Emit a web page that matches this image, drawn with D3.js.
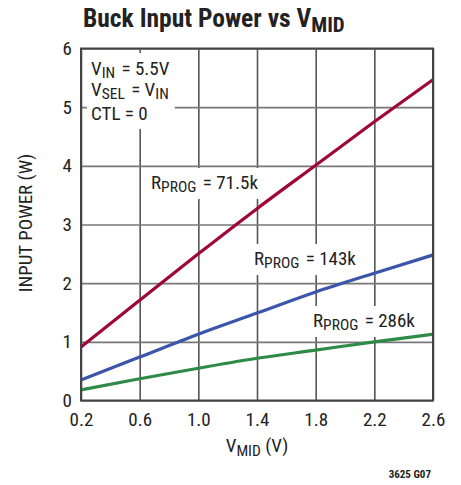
<!DOCTYPE html>
<html><head><meta charset="utf-8">
<script src="https://cdn.jsdelivr.net/npm/d3@7"></script>
<style>
body{margin:0;background:#fff;}
text{font-family:"Liberation Sans Narrow","Roboto Condensed","DejaVu Sans Condensed","Liberation Sans",sans-serif;fill:#222;}
</style></head><body>
<svg id="c" width="461" height="485"></svg>
<script>
const vmid = [0.2, 0.6, 1.0, 1.4, 1.8, 2.2, 2.6];
const pin715 = [0.91, 1.71, 2.50, 3.27, 4.01, 4.75, 5.47];
const pin143 = [0.35, 0.74, 1.13, 1.49, 1.85, 2.17, 2.48];
const pin286 = [0.18, 0.37, 0.55, 0.72, 0.86, 1.00, 1.13];
const xTicks = [0.2, 0.6, 1.0, 1.4, 1.8, 2.2, 2.6];
const yTicks = [0, 1, 2, 3, 4, 5, 6];
const seriesNames = ["71.5k", "143k", "286k"];

const svg = d3.select("#c");
const L = 81, R = 433, T = 48.5, B = 400.5;
const x = d3.scaleLinear().domain([0.2, 2.6]).range([L, R]);
const y = d3.scaleLinear().domain([0, 6]).range([B, T]);

// grid
const gx = svg.append("g").attr("transform", `translate(0,${B})`)
  .call(d3.axisBottom(x).tickValues(xTicks).tickSize(-(B - T)).tickFormat(""));
gx.select(".domain").remove();
gx.selectAll("line").attr("stroke", "#555").attr("stroke-width", 1.6);
const gy = svg.append("g").attr("transform", `translate(${L},0)`)
  .call(d3.axisLeft(y).tickValues(yTicks).tickSize(-(R - L)).tickFormat(""));
gy.select(".domain").remove();
gy.selectAll("line").attr("stroke", "#777").attr("stroke-width", 1.6);

const bgLayer = svg.append("g");
const txtLayer = svg.append("g");
const FS = 19, SUB = 15.5;
function label(xp, yp, parts, size) {
  const t = txtLayer.append("text").attr("x", xp).attr("y", yp).attr("font-size", size);
  parts.forEach(p => {
    if (p.sub) {
      t.append("tspan").attr("dy", 3).attr("font-size", SUB).text(p.t);
      t.append("tspan").attr("dy", -3).text("\u200A");
    } else t.append("tspan").text(p.t);
  });
  return t;
}
const a1 = label(91, 75, [{t:"V"},{t:"IN",sub:1},{t:" = 5.5V"}], FS);
const a2 = label(91, 96, [{t:"V"},{t:"SEL",sub:1},{t:" = V"},{t:"IN",sub:1}], FS);
const a3 = label(91, 120, [{t:"CTL = 0"}], FS);
const b1 = label(151, 189, [{t:"R"},{t:"PROG",sub:1},{t:" = 71.5k"}], FS);
const b2 = label(254, 265, [{t:"R"},{t:"PROG",sub:1},{t:" = 143k"}], FS);
const b3 = label(313, 327, [{t:"R"},{t:"PROG",sub:1},{t:" = 286k"}], FS);
function bg(nodes, pad) {
  const bbs = nodes.map(n => n.node().getBBox());
  const x0 = d3.min(bbs, b => b.x), y0 = d3.min(bbs, b => b.y);
  const x1 = d3.max(bbs, b => b.x + b.width), y1 = d3.max(bbs, b => b.y + b.height);
  bgLayer.append("rect").attr("x", x0 - pad).attr("y", y0 - pad)
    .attr("width", x1 - x0 + 2 * pad).attr("height", y1 - y0 + 2 * pad).attr("fill", "#fff");
}
bg([a1, a2, a3], 4);
bg([b1], 3); bg([b2], 3); bg([b3], 3);

// lines
const colors = ["#a1063a", "#3a55a9", "#2e8b47"];
const sets = [pin715, pin143, pin286];
const line = d3.line().x((d, i) => x(vmid[i])).y(d => y(d)).curve(d3.curveMonotoneX);
sets.forEach((s, k) => {
  svg.append("path").datum(s).attr("d", line).attr("fill", "none")
    .attr("stroke", colors[k]).attr("stroke-width", 3.2).attr("stroke-linecap", "butt")
    .attr("class", "series-" + seriesNames[k]);
});

// frame
svg.append("rect").attr("x", L).attr("y", T).attr("width", R - L).attr("height", B - T)
  .attr("fill", "none").attr("stroke", "#444").attr("stroke-width", 2);

// tick labels
const xa = svg.append("g").attr("transform", `translate(0,${B})`)
  .call(d3.axisBottom(x).tickValues(xTicks).tickSize(0).tickPadding(0).tickFormat(d3.format(".1f")));
xa.select(".domain").remove();
xa.selectAll("text").attr("font-size", FS).attr("dy", 0).attr("y", 25).attr("fill", "#222")
  .attr("font-family", null);
const ya = svg.append("g").attr("transform", `translate(${L},0)`)
  .call(d3.axisLeft(y).tickValues(yTicks).tickSize(0).tickPadding(0).tickFormat(d3.format("d")));
ya.select(".domain").remove();
ya.selectAll("text").attr("font-size", FS).attr("x", -9).attr("dy", 0).attr("y", 6).attr("fill", "#222")
  .attr("font-family", null);

// axis titles
const xt = svg.append("text").attr("x", 257).attr("y", 452).attr("text-anchor", "middle").attr("font-size", FS);
xt.append("tspan").text("V");
xt.append("tspan").attr("dy", 4).attr("font-size", SUB).text("MID");
xt.append("tspan").attr("dy", -4).text(" (V)");
svg.append("text").attr("transform", "translate(32,223) rotate(-90)").attr("text-anchor", "middle")
  .attr("font-size", FS).text("INPUT POWER (W)");

// title
const tt = svg.append("text").attr("x", 83).attr("y", 27).attr("font-size", 25.5).attr("font-weight", "bold");
tt.append("tspan").text("Buck Input Power vs V");
tt.append("tspan").attr("dy", 5).attr("font-size", 21).text("MID");

svg.append("text").attr("x", 431).attr("y", 478).attr("text-anchor", "end").attr("font-size", 11)
  .attr("font-weight", "bold").attr("fill", "#333").text("3625 G07");
</script></body></html>
